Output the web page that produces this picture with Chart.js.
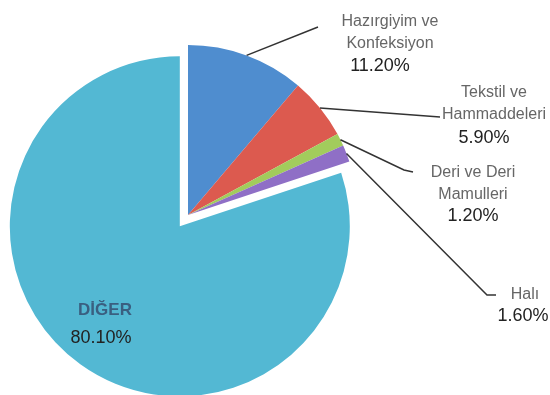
<!DOCTYPE html>
<html>
<head>
<meta charset="utf-8">
<script src="https://cdn.jsdelivr.net/npm/chart.js@4.4.1/dist/chart.umd.min.js"></script>
<style>
  html, body { margin: 0; padding: 0; background: #fff; }
  #wrap { width: 550px; height: 395px; position: relative; }
</style>
</head>
<body>
<div id="wrap"><canvas id="pasta"></canvas></div>
<script>
const sektorler = ['Hazırgiyim ve Konfeksiyon', 'Tekstil ve Hammaddeleri', 'Deri ve Deri Mamulleri', 'Halı', 'DİĞER'];
const paylar = [11.2, 5.9, 1.2, 1.6, 80.1];
const renkler = ['#4f8dcf', '#dc5a4f', '#a2cc5c', '#8f6fc6', '#53b8d3'];

// etiket satirlari ve konumlari (ayri tutuldu)
const etiketSatirlari = [
  ['Hazırgiyim ve', 'Konfeksiyon'],
  ['Tekstil ve', 'Hammaddeleri'],
  ['Deri ve Deri', 'Mamulleri'],
  ['Halı'],
  ['DİĞER']
];
const etiketYerleri = [
  { x: 390, y: 22, py: 66, px: 380, cizgi: [[318, 27]] },
  { x: 494, y: 93, py: 138, px: 484, cizgi: [[440, 117]] },
  { x: 473, y: 173, py: 216, px: 473, cizgi: [[404, 170], [413, 172]] },
  { x: 525, y: 295, py: 316, px: 523, cizgi: [[487, 295], [496, 295]] },
  { x: 105, y: 310, py: 338, px: 101, cizgi: [] }
];
const ayrilanDilim = 4;
const ayrilmaMesafesi = 14;

// DİĞER dilimini yaricapi degistirmeden disari kaydir
const ayirmaEklentisi = {
  id: 'ayirma',
  afterDatasetsUpdate(chart) {
    const arc = chart.getDatasetMeta(0).data[ayrilanDilim];
    const orta = (arc.startAngle + arc.endAngle) / 2;
    arc.x += Math.cos(orta) * ayrilmaMesafesi;
    arc.y += Math.sin(orta) * ayrilmaMesafesi;
  }
};

const etiketEklentisi = {
  id: 'etiketler',
  afterDraw(chart) {
    const ctx = chart.ctx;
    const arcs = chart.getDatasetMeta(0).data;
    ctx.save();
    arcs.forEach((arc, i) => {
      const yer = etiketYerleri[i];
      if (yer.cizgi.length) {
        const orta = (arc.startAngle + arc.endAngle) / 2;
        const r = arc.outerRadius;
        ctx.beginPath();
        ctx.moveTo(arc.x + Math.cos(orta) * r, arc.y + Math.sin(orta) * r);
        yer.cizgi.forEach(p => ctx.lineTo(p[0], p[1]));
        ctx.strokeStyle = '#333';
        ctx.lineWidth = 1.5;
        ctx.stroke();
      }
      ctx.textAlign = 'center';
      ctx.textBaseline = 'middle';
      if (i === 4) {
        ctx.font = 'bold 17px "Liberation Sans", Arial, sans-serif';
        ctx.fillStyle = '#3a5f80';
      } else {
        ctx.font = '16px "Liberation Sans", Arial, sans-serif';
        ctx.fillStyle = '#666';
      }
      etiketSatirlari[i].forEach((s, k) => ctx.fillText(s, yer.x, yer.y + k * 22));
      ctx.font = '18px "Liberation Sans", Arial, sans-serif';
      ctx.fillStyle = '#222';
      ctx.fillText(paylar[i].toFixed(2) + '%', yer.px, yer.py);
    });
    ctx.restore();
  }
};

new Chart(document.getElementById('pasta'), {
  type: 'pie',
  data: {
    labels: sektorler,
    datasets: [{
      data: paylar,
      backgroundColor: renkler,
      borderWidth: 0,
      radius: 170
    }]
  },
  options: {
    responsive: true,
    maintainAspectRatio: false,
    animation: false,
    layout: { padding: { left: 0, right: 174, top: 35, bottom: 0 } },
    plugins: {
      legend: { display: false },
      tooltip: { enabled: false }
    }
  },
  plugins: [ayirmaEklentisi, etiketEklentisi]
});
</script>
</body>
</html>
